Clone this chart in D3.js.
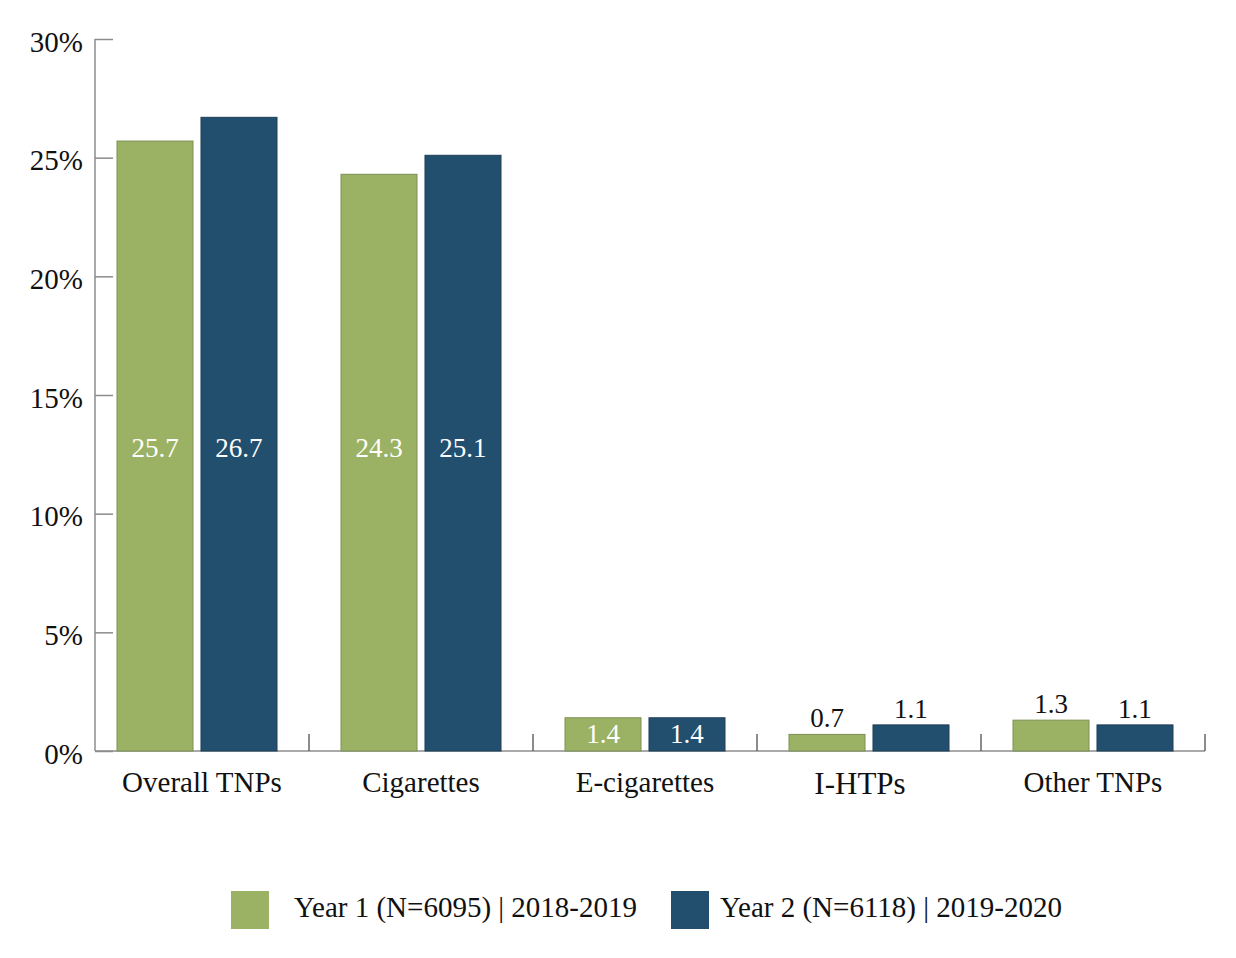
<!DOCTYPE html>
<html>
<head>
<meta charset="utf-8">
<script src="https://cdn.jsdelivr.net/npm/d3@7"></script>
<style>
  body { margin: 0; background: #fff; }
  text { font-family: "Liberation Serif", "Times New Roman", serif; }
</style>
</head>
<body>
<div id="chart-area"></div>
<script>
const categories = ["Overall TNPs", "Cigarettes", "E-cigarettes", "I-HTPs", "Other TNPs"];
const year1 = [25.7, 24.3, 1.4, 0.7, 1.3];
const year2 = [26.7, 25.1, 1.4, 1.1, 1.1];
const seriesNames = ["Year 1 (N=6095) | 2018-2019", "Year 2 (N=6118) | 2019-2020"];
const yTicks = [0, 5, 10, 15, 20, 25, 30];

const width = 1236;
const height = 958;
const colors = ["#9BB264", "#234F6E"];
const axisColor = "#8c8c8c";

const svg = d3.select("#chart-area")
    .append("svg")
    .attr("width", width)
    .attr("height", height);

const x = d3.scaleBand()
    .domain(categories)
    .range([85, 1205]);

const y = d3.scaleLinear()
    .domain([0, 30])
    .range([751, 39]);

const inner = d3.scaleBand()
    .domain([0, 1])
    .range([x.bandwidth() / 2 - 80, x.bandwidth() / 2 + 80])
    .paddingInner(0.095);

// y axis
const leftAxis = d3.axisRight(y)
    .tickValues(yTicks)
    .tickSize(18)
    .tickFormat((d) => d + "%");

const gy = svg.append("g")
    .attr("transform", "translate(95, 0)")
    .call(leftAxis);
gy.select(".domain").remove();
gy.selectAll(".tick line").attr("stroke", axisColor).attr("stroke-width", 1.5);
gy.selectAll(".tick text")
    .attr("x", -12)
    .attr("dy", "0.42em")
    .attr("text-anchor", "end")
    .attr("font-size", "29px")
    .attr("fill", "#111");
gy.append("line")
    .attr("x1", 0).attr("x2", 0)
    .attr("y1", y(30)).attr("y2", y(0))
    .attr("stroke", axisColor)
    .attr("stroke-width", 1.5);

// x axis
const gx = svg.append("g");
gx.append("line")
    .attr("x1", 95).attr("x2", x.range()[1])
    .attr("y1", y(0)).attr("y2", y(0))
    .attr("stroke", axisColor)
    .attr("stroke-width", 1.5);
gx.selectAll(".sep")
    .data(categories)
    .enter()
    .append("line")
    .attr("x1", (d) => x(d) + x.bandwidth())
    .attr("x2", (d) => x(d) + x.bandwidth())
    .attr("y1", y(0))
    .attr("y2", y(0) - 17)
    .attr("stroke", "#666")
    .attr("stroke-width", 1.5);

const labelShift = { "Overall TNPs": 5, "I-HTPs": -9 };
gx.selectAll(".cat")
    .data(categories)
    .enter()
    .append("text")
    .attr("x", (d) => x(d) + x.bandwidth() / 2 + (labelShift[d] || 0))
    .attr("y", (d) => d === "I-HTPs" ? 794 : 792)
    .attr("text-anchor", "middle")
    .attr("font-size", (d) => d === "I-HTPs" ? "31px" : "29px")
    .attr("fill", "#111")
    .text((d) => d);

// bars
const rows = [];
categories.forEach((c, i) => {
    rows.push({ cat: c, s: 0, v: year1[i] });
    rows.push({ cat: c, s: 1, v: year2[i] });
});

svg.selectAll(".bar")
    .data(rows)
    .enter()
    .append("rect")
    .attr("x", (d) => x(d.cat) + inner(d.s))
    .attr("y", (d) => y(d.v))
    .attr("width", inner.bandwidth())
    .attr("height", (d) => y(0) - y(d.v))
    .attr("fill", (d) => colors[d.s])
    .attr("stroke", (d) => d.s === 0 ? "#7d8f55" : "#1d3f58")
    .attr("stroke-width", 1);

svg.selectAll(".lbl")
    .data(rows)
    .enter()
    .append("text")
    .attr("x", (d) => x(d.cat) + inner(d.s) + inner.bandwidth() / 2)
    .attr("y", (d) => {
        if (d.v > 5) return y(12.4);
        if (d.v >= 1.4) return (y(d.v) + y(0)) / 2 + 9;
        return y(d.v) - 7;
    })
    .attr("text-anchor", "middle")
    .attr("font-size", "27px")
    .attr("fill", (d) => d.v >= 1.4 ? "#fff" : "#111")
    .text((d) => d.v.toFixed(1));

// legend
const legend = svg.append("g");
const legendX = [231, 671];
seriesNames.forEach((name, i) => {
    legend.append("rect")
        .attr("x", legendX[i])
        .attr("y", 891)
        .attr("width", 38)
        .attr("height", 38)
        .attr("fill", colors[i]);
    legend.append("text")
        .attr("x", legendX[i] + (i === 0 ? 63 : 49))
        .attr("y", 917)
        .attr("font-size", "29px")
        .attr("fill", "#111")
        .text(name);
});
</script>
</body>
</html>
